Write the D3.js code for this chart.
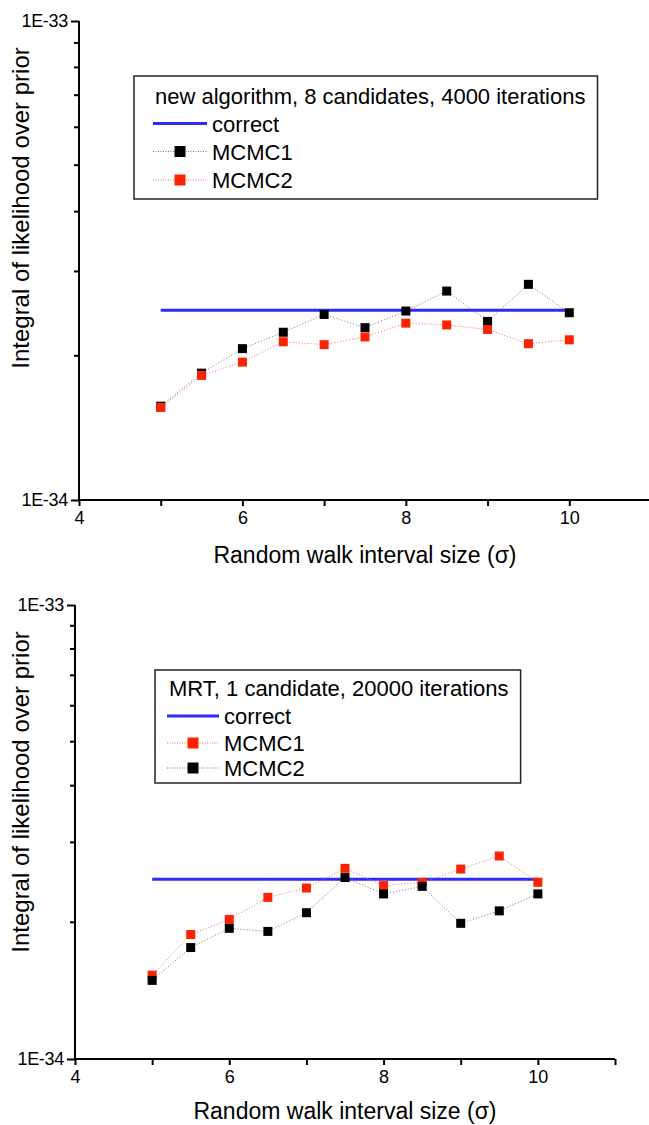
<!DOCTYPE html>
<html>
<head>
<meta charset="utf-8">
<script src="https://cdn.jsdelivr.net/npm/d3@7"></script>
<style>
  body { margin: 0; background: #fff; }
  svg { display: block; font-family: "Liberation Sans", Arial, sans-serif; }
</style>
</head>
<body>
<svg id="chart" width="649" height="1125"></svg>
<script>
// x values (random walk interval size, sigma)
const sigmaValues = [5, 5.5, 6, 6.5, 7, 7.5, 8, 8.5, 9, 9.5, 10];

// top panel: new algorithm, 8 candidates, 4000 iterations
const topCorrect = [2.49e-34, 2.49e-34, 2.49e-34, 2.49e-34, 2.49e-34, 2.49e-34, 2.49e-34, 2.49e-34, 2.49e-34, 2.49e-34, 2.49e-34];
const topMcmc1 = [1.57e-34, 1.84e-34, 2.07e-34, 2.24e-34, 2.44e-34, 2.29e-34, 2.48e-34, 2.73e-34, 2.36e-34, 2.82e-34, 2.46e-34];
const topMcmc2 = [1.56e-34, 1.82e-34, 1.94e-34, 2.14e-34, 2.11e-34, 2.19e-34, 2.34e-34, 2.32e-34, 2.27e-34, 2.12e-34, 2.16e-34];

// bottom panel: MRT, 1 candidate, 20000 iterations
const bottomCorrect = [2.49e-34, 2.49e-34, 2.49e-34, 2.49e-34, 2.49e-34, 2.49e-34, 2.49e-34, 2.49e-34, 2.49e-34, 2.49e-34, 2.49e-34];
const bottomMcmc1 = [1.53e-34, 1.88e-34, 2.03e-34, 2.27e-34, 2.38e-34, 2.63e-34, 2.41e-34, 2.45e-34, 2.62e-34, 2.80e-34, 2.45e-34];
const bottomMcmc2 = [1.49e-34, 1.76e-34, 1.94e-34, 1.91e-34, 2.10e-34, 2.51e-34, 2.31e-34, 2.40e-34, 1.99e-34, 2.12e-34, 2.31e-34];

// axis ticks
const xTicks = [4, 5, 6, 7, 8, 9, 10, 11];
const yMajorTicks = [1e-34, 1e-33];
const yMajorLabels = ['1E-34', '1E-33'];
const yMinorTicks = [2e-34, 3e-34, 4e-34, 5e-34, 6e-34, 7e-34, 8e-34, 9e-34];

const xTitle = 'Random walk interval size (\u03C3)';
const yTitle = 'Integral of likelihood over prior';

const blue = '#2a2aff';
const red = '#ff2200';

const svg = d3.select('#chart');

function drawPanel(p) {
    const g = svg.append('g');

    const x = d3.scaleLinear().domain([4, 11]).range([p.left, p.right]);
    const y = d3.scaleLog().domain([1e-34, 1e-33]).range([p.bottom, p.top]);

    // x axis
    const xAxis = g.append('g')
        .attr('transform', `translate(0,${p.bottom})`)
        .call(d3.axisBottom(x)
            .tickValues(xTicks)
            .tickSize(6)
            .tickPadding(5)
            .tickFormat(d => d % 2 === 0 ? d : ''));
    xAxis.select('.domain').attr('stroke-width', 2).attr('d', `M${p.left},0H${p.right}`);
    xAxis.selectAll('line').attr('stroke-width', 2);
    xAxis.selectAll('text').style('font-size', '18px').attr('fill', '#000');

    // y axis, major ticks
    const yAxis = g.append('g')
        .attr('transform', `translate(${p.left},0)`)
        .call(d3.axisLeft(y)
            .tickValues(yMajorTicks)
            .tickSize(8)
            .tickPadding(3)
            .tickFormat((d, i) => yMajorLabels[i]));
    yAxis.select('.domain').attr('stroke-width', 2).attr('d', `M0,${p.bottom}V${p.top}`);
    yAxis.selectAll('line').attr('stroke-width', 2);
    yAxis.selectAll('text').style('font-size', '18px').style('letter-spacing', '-0.3px').attr('fill', '#000');

    // y axis, minor ticks
    g.selectAll('.minor')
        .data(yMinorTicks)
        .enter()
        .append('line')
        .attr('x1', p.left - 5)
        .attr('x2', p.left)
        .attr('y1', d => y(d))
        .attr('y2', d => y(d))
        .attr('stroke', '#000')
        .attr('stroke-width', 2);

    // axis titles
    g.append('text')
        .attr('x', (p.left + p.right) / 2)
        .attr('y', p.bottom + p.xTitleDy)
        .attr('text-anchor', 'middle')
        .style('font-size', '23px')
        .text(xTitle);

    g.append('text')
        .attr('transform', 'rotate(-90)')
        .attr('x', -p.yTitleCy)
        .attr('y', p.yTitleX)
        .attr('text-anchor', 'middle')
        .style('font-size', '24px')
        .text(yTitle);

    // correct line
    const line = d3.line()
        .x((d, i) => x(sigmaValues[i]))
        .y(d => y(d));

    g.append('path')
        .datum(p.correct)
        .attr('d', line)
        .attr('fill', 'none')
        .attr('stroke', blue)
        .attr('stroke-width', 3);

    // MCMC series, later one on top
    p.series.forEach(s => {
        g.append('path')
            .datum(s.values)
            .attr('d', line)
            .attr('fill', 'none')
            .attr('stroke', s.lineColor)
            .attr('stroke-width', 1)
            .attr('stroke-dasharray', '1,2');
        g.selectAll(null)
            .data(s.values)
            .enter()
            .append('rect')
            .attr('x', (d, i) => x(sigmaValues[i]) - 4.5)
            .attr('y', d => y(d) - 4.5)
            .attr('width', 9)
            .attr('height', 9)
            .attr('fill', s.color);
    });

    // legend
    const L = p.legend;
    const lg = g.append('g');
    const box = lg.append('rect')
        .attr('x', L.x)
        .attr('y', L.y)
        .attr('height', L.h)
        .attr('fill', '#fff')
        .attr('stroke', '#222')
        .attr('stroke-width', 1.5);
    const title = lg.append('text')
        .attr('x', L.titleX)
        .attr('y', L.titleY)
        .style('font-size', '22px')
        .text(L.title);
    const tw = title.node().getComputedTextLength();
    box.attr('width', L.titleX - L.x + tw + 12);

    const items = [{ name: 'correct', color: blue, line: true }].concat(
        p.series.map(s => ({ name: s.name, color: s.color, lineColor: s.lineColor })));
    items.forEach((it, i) => {
        const cy = L.rows[i];
        if (it.line) {
            lg.append('line')
                .attr('x1', L.lineX).attr('x2', L.lineX + L.lineW)
                .attr('y1', cy).attr('y2', cy)
                .attr('stroke', it.color).attr('stroke-width', 3);
        } else {
            lg.append('line')
                .attr('x1', L.lineX).attr('x2', L.lineX + L.lineW)
                .attr('y1', cy).attr('y2', cy)
                .attr('stroke', it.lineColor).attr('stroke-width', 1)
                .attr('stroke-dasharray', '1,1.5');
            lg.append('rect')
                .attr('x', L.lineX + L.lineW / 2 - 5.5).attr('y', cy - 5.5)
                .attr('width', 11).attr('height', 11)
                .attr('fill', it.color);
        }
        lg.append('text')
            .attr('x', L.lineX + L.lineW + 5)
            .attr('y', cy + 8)
            .style('font-size', '22px')
            .text(it.name);
    });
}

drawPanel({
    left: 79, right: 651, top: 21, bottom: 500,
    xTitleDy: 63, yTitleCy: 208, yTitleX: 29,
    correct: topCorrect,
    series: [
        { name: 'MCMC1', values: topMcmc1, color: '#000', lineColor: '#777' },
        { name: 'MCMC2', values: topMcmc2, color: red, lineColor: '#ff6a50' }
    ],
    legend: { x: 134, y: 76, h: 123, titleX: 155, titleY: 104,
              lineX: 153, lineW: 54, rows: [123.5, 151.5, 180],
              title: 'new algorithm, 8 candidates, 4000 iterations' }
});

drawPanel({
    left: 75, right: 615, top: 605, bottom: 1059,
    xTitleDy: 60, yTitleCy: 792, yTitleX: 29,
    correct: bottomCorrect,
    series: [
        { name: 'MCMC1', values: bottomMcmc1, color: red, lineColor: '#ff6a50' },
        { name: 'MCMC2', values: bottomMcmc2, color: '#000', lineColor: '#777' }
    ],
    legend: { x: 155, y: 670, h: 113, titleX: 169, titleY: 696,
              lineX: 167, lineW: 52, rows: [716, 743, 768],
              title: 'MRT, 1 candidate, 20000 iterations' }
});
</script>
</body>
</html>
